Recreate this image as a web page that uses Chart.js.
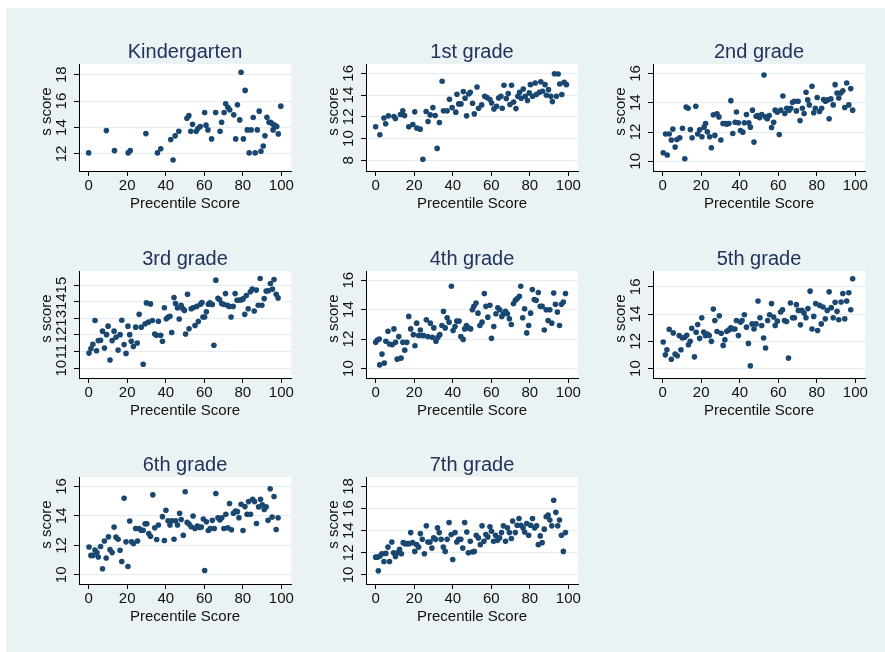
<!DOCTYPE html>
<html>
<head>
<meta charset="utf-8">
<script src="https://cdn.jsdelivr.net/npm/chart.js@4.4.1/dist/chart.umd.min.js"></script>
<style>
  html, body { margin: 0; padding: 0; background: #fff; }
  body { width: 885px; height: 652px; position: relative; overflow: hidden; }
  #bg { position: absolute; left: 6px; top: 8px; width: 879px; height: 644px; background: #eaf2f3; }
  canvas { position: absolute; }
</style>
</head>
<body>
<div id="bg"></div>
<script>
// tick labels
const xTicks = [0, 20, 40, 60, 80, 100];
const yTicksK = [12, 14, 16, 18];
const yTicks1 = [8, 10, 12, 14, 16];
const yTicks3 = [10, 11, 12, 13, 14, 15];
const yTicksStd = [10, 12, 14, 16];
const yTicks7 = [10, 12, 14, 16, 18];

const xTitle = 'Precentile Score';
const yTitle = 's score';

// Kindergarten
const kPct = [0,9.2,13.4,20.5,21.6,29.7,35.7,37.4,42.6,43.8,44.9,46.8,51,52,53,53.9,55.8,56.7,57.9,60.2,60.9,61.9,63.8,65.9,68.2,69,70.3,71.1,72.2,73.2,75.3,76.3,77.2,78.4,79.1,80.3,81.2,82.3,83.3,84.3,85.4,86.4,87.5,88.5,89.4,90.6,91.5,92.5,93.6,94.4,95.3,95.7,96.5,97.6,98.4,99.7];
const kScore = [12.08,13.77,12.25,12.08,12.25,13.54,12.08,12.4,13.1,11.54,13.37,13.72,14.7,14.9,13.72,14.25,13.72,13.92,14.08,15.14,14.18,13.82,13.14,15.14,13.72,14.4,15.14,15.8,15.54,15.34,14.96,13.14,15.72,14.58,18.18,13.14,16.81,13.82,12.08,13.82,14.76,12.08,13.82,15.24,12.2,12.6,13.37,14.78,14.4,14.4,14.28,13.82,14.18,14.08,13.52,15.62];

// 1st grade
const g1Pct = [0,2.2,4.3,5.2,6.6,9.5,10.3,12.9,14.1,15,17.2,19.3,20.3,21.4,23.1,24.5,26.2,27.2,28.3,29.7,30.9,31.9,33.1,34.5,35.2,37.1,38.3,39.7,41.6,42.2,43.1,44.3,45.5,46.4,47.2,48.3,49.1,50.3,51.2,52.6,53.4,55,56.6,57.8,59.3,60.2,61.4,62.8,63.8,65,65.7,66.6,67.8,68.8,69.7,70.5,71.6,72.8,73.8,74.7,75.5,76.6,77.6,78.8,79.7,80.3,81.4,82.8,83.4,85,85.7,86.6,87.9,88.6,89.7,90.9,91.7,92.8,93.8,94.7,95.5,96.6,97.8,99];
const g1Score = [11.08,10.35,11.9,11.36,12.09,12.03,11.85,12.21,12.55,12.12,11.08,11.3,12.46,10.96,10.87,8.09,12.49,11.57,12.18,12.85,12.12,9.1,11.48,15.27,12.55,12.55,13.62,12.85,12.43,14.08,13.19,13.19,14.32,13.71,12.09,14.1,14.26,13.25,12.27,14.75,12.79,13.1,13.89,13.77,13.59,13.28,12.73,12.98,13.74,13.89,12.79,14.9,13.68,14.14,13.13,14.9,13.37,12.76,13.89,14.26,13.71,14.56,13.89,13.5,14.2,14.96,13.89,15.11,14.05,14.26,15.23,14.35,14.96,13.98,14.5,13.89,13.4,15.97,13.89,15.94,15.02,14.05,15.17,14.96];

// 2nd grade
const g2Pct = [0.3,1.5,2.4,3.4,4.5,5.3,6.5,7.4,8.9,10.3,11.5,12.2,13.2,14.4,15.3,17.2,18.2,19.2,20.4,21.5,22.3,23.2,24.4,25.3,26.3,27.1,28.2,29.2,30.2,31.3,32.5,33.3,34.4,35.4,36.4,37.6,38.3,39.3,40.4,41.6,42.4,43.5,44.7,45.5,46.6,47.4,48.5,49.3,50.3,51.4,52.6,53.3,54.3,55.3,56.5,57.6,58.4,59.5,60.5,61.3,62.4,63.4,64.4,65.6,66.5,67.4,68.4,69.4,70.3,71.3,72.5,73.4,74.4,75.3,76.1,77.5,78.4,79.2,80.2,81.4,82.5,83.5,84.5,85.6,86.4,87.3,88.5,89.5,90.5,91.4,92.4,93.5,94.5,95.5,96.6,97.6,98.6];
const g2Score = [10.59,11.86,10.43,11.86,11.45,12.2,10.97,11.49,11.61,12.26,10.18,13.71,13.62,12.17,11.61,13.76,11.86,12.15,11.68,12.33,12.58,12.01,11.68,10.93,13.17,11.77,13.24,13.03,11.45,12.58,12.58,12.54,12.58,14.14,11.9,12.67,13.37,12.63,12.1,11.99,12.63,13.19,12.63,12.33,13.49,11.31,13.08,13.12,12.97,13.19,15.89,13.03,12.9,13.12,12.31,12.67,13.49,13.35,11.83,13.49,14.46,13.26,13.62,13.49,13.62,14.03,14.1,13.44,14.1,12.78,13.62,13.26,14.71,14.19,13.85,15.12,13.31,13.62,14.35,13.4,13.62,14.21,14.1,14.19,12.9,14.26,13.85,15.23,14.66,14.32,14.66,14.82,13.67,15.34,13.85,14.96,13.49];

// 3rd grade
const g3Pct = [0.2,1.2,2.2,3.3,4.1,5,6.2,7.2,8.2,9.3,10.1,11.1,12.2,13.2,14.2,15.3,16.3,17.2,18.4,19.4,20.4,21.3,22.1,23.2,24.4,25.2,26.2,27.3,28.3,29.3,30,31,32.1,33.1,34.3,35.2,36.2,37.4,38.3,39.3,40.3,41.3,42.2,43.1,44.3,45.1,46.1,47,48,48.9,49.7,50.3,51.3,52.1,53.2,54.2,55.2,56.1,56.9,58,58.8,59.3,60.2,61.1,62.1,62.9,64.2,65,66,67.1,67.9,69,70,71,72,72.9,73.9,75,76,77,77.9,79.1,80.1,81,81.8,82.8,83.9,84.9,85.9,87,88,89,89.9,91.1,92.1,93.3,94.3,95.4,96.2,97.3,98.3];
const g3Score = [10.91,11.19,11.44,12.87,11.05,11.66,11.68,12.23,11.21,12.02,12.53,10.49,11.66,12.23,11.86,11.09,12.02,12.89,11.42,10.89,12.53,12.02,11.62,11.3,12.47,11.52,13.24,12.47,10.24,12.67,13.93,12.77,13.87,12.87,12.06,11.98,12.83,11.98,11.62,13.64,12.98,13.08,13.12,12.15,14.25,13.89,13.62,12.96,13.79,13.58,13.48,12.06,14.45,12.37,13.58,13.64,12.57,13.72,12.81,13.85,13.95,13.08,13.08,13.4,13.85,13.93,13.83,11.38,15.3,14.21,14.13,13.89,13.85,14.49,13.79,13.72,13.08,13.72,14.49,14.09,14.09,14.11,14.17,13.24,14.37,13.58,14.6,14.76,13.44,14.7,13.79,15.4,13.79,14.19,14.64,14.66,15.1,14.76,15.34,14.45,14.23];

// 4th grade
const g4Pct = [0,0.9,1.9,2.1,3.3,4.5,5.3,6.4,7.2,8.6,9.5,10.3,11.2,12,13.2,14.1,15.1,16.2,17.2,18.2,19.6,20.4,21.3,22.3,23.2,24.1,24.9,26.3,27.1,28.4,29.4,30.2,31.3,32.3,33.3,34.4,35.2,36.1,37.1,38.1,39.3,40.2,41.2,42.1,43.3,44.2,45.4,46.2,47.1,48.3,49.3,50.2,51,52.1,53.1,54.1,55.2,56.4,57.2,58.2,59.3,60.1,61.3,62.4,63.4,64.4,65.5,66.3,67.4,68.4,69.4,70.4,71.5,72.5,73.5,74.6,75.3,76.3,77.3,78.4,79.4,80.4,81.3,82.3,83.3,84.4,85.4,86.4,87.5,88.5,89.5,90.4,91.4,92.4,93.3,94.3,95.4,96.4,97.4,98.5];
const g4Score = [11.78,11.94,12.01,10.25,10.98,10.37,11.85,12.53,11.67,11.62,12.69,11.78,10.64,12.17,10.71,11.78,11.25,11.78,13.54,12.69,12.3,11.55,13.08,12.24,12.62,12.24,12.24,13.31,12.17,13.08,12.12,12.76,11.85,12.12,12.3,12.92,13.88,12.76,13.45,13.15,15.59,12.58,12.85,13.22,13.22,12.17,11.98,12.69,12.92,12.76,12.69,13.99,14.22,14.45,13.76,12.92,13.15,15.09,14.22,13.49,14.29,12.05,12.85,13.72,14.13,13.99,13.54,13.72,13.88,13.72,13.38,12.99,14.4,14.63,14.75,14.9,15.59,13.45,14.06,12.42,12.92,13.76,15.36,14.68,14.63,15.16,14.22,14.22,12.62,13.99,13.26,13.99,13.08,15.13,14.36,13.83,12.92,14.36,14.52,15.09];

// 5th grade
const g5Pct = [0.3,1.4,2.2,3.4,4.5,5.5,6.5,7.6,8.6,9.5,10.3,11.5,12.5,13.4,14.3,15.1,16.5,17.4,18.2,19.2,20.3,21.3,22.2,23.2,24.2,25.3,26.3,27.1,28.2,29.4,30.4,31.4,32.3,33.3,34.4,35.4,36.4,37.5,38.3,39.3,40.4,41.2,42.4,43.5,44.5,45.5,46.4,47.4,48.5,49.5,50.5,51.4,52.4,53.4,54.5,55.5,56.5,57.6,58.4,59.5,61.2,62.2,63.2,64.3,65.3,66.3,67.4,68.4,69.4,70.4,71.5,72.3,73.4,74.4,75.4,76.5,77.5,78.4,79.4,80.4,81.4,82.3,83.2,84.4,85.4,86.4,87.5,88.5,89.5,90.5,91.4,92.6,93.5,94.5,95.5,96.6,97.6,98.6];
const g5Score = [11.95,11.01,11.38,12.89,10.69,12.62,11.06,10.94,12.42,11.38,12.25,12.3,12.44,11.75,12,12.96,10.86,12.67,13.23,12.22,13.73,12.69,12.42,12.54,12.42,12,14.37,13.53,12.72,13.88,12.59,11.7,12.12,12.74,12.84,12.99,12.91,12.91,13.53,12.42,13.41,13.53,13.95,13.04,11.85,10.2,13.28,12.91,13.28,14.96,13.73,13.16,12.25,11.51,13.53,13.95,14.77,13.78,13.16,13.48,14.15,14.32,13.53,13.46,10.77,14.81,13.73,13.73,14.69,14.27,13.21,14.27,14.07,13.73,14.4,15.68,12.91,13.83,14.77,12.79,14.64,13.28,14.52,13.65,14.27,15.63,14.47,13.73,14.86,14.2,13.58,14.89,15.51,13.65,14.96,15.56,14.32,16.59];

// 6th grade
const g6Pct = [0.2,1.2,2.2,3.3,4.3,5,6.2,7.2,8.2,9.1,10.3,11.1,12.2,13.2,14.2,15.3,16.3,17.2,18.4,19.4,20.4,21.3,22.3,23.3,24.4,25.4,26.2,27.3,28.3,29.3,30.2,31.2,32.1,33.3,34.3,35.3,36.2,38.3,39.3,40.1,41.2,42.2,43.1,44.3,45.1,46.1,47.2,48,49.1,50.1,51.1,52.1,53.2,54.2,55.2,56.4,57.5,58.5,59.5,60.2,61.1,62.1,63.1,64.2,65.2,66,67.1,68.1,69.1,70.2,71.2,72.2,73.1,74.1,75.1,76.2,77.2,78,79.1,80.1,81.1,82.2,83,84,85.1,86.1,87.1,88.2,89.2,90.1,91.1,92.1,93.1,94.2,95.2,96.2,97.3,98.3];
const g6Score = [11.89,11.32,11.32,11.69,11.51,11.21,11.92,10.41,12.3,11.14,12.58,11.71,11.51,13.24,12.56,12.42,11.67,10.91,15.2,12.24,10.57,13.65,12.24,12.12,13.15,12.3,13.15,13.03,13.03,13.47,13.47,12.81,12.62,15.43,13.19,12.4,13.38,13.95,12.33,14.38,13.67,13.38,13.67,12.42,13.67,13.38,14.18,13.76,12.69,15.64,13.56,13.45,13.26,13.99,13.15,13.31,13.22,13.24,13.79,10.3,13.6,13.01,13.15,13.7,13.15,15.52,13.88,13.72,13.88,13.15,14.11,13.19,14.84,13.06,14.18,14.33,14.29,13.88,14.79,13.01,14.63,14.11,14.97,14.11,15.13,14.97,13.49,14.61,15.13,14.75,14.43,14.61,13.7,15.84,13.92,15.32,13.08,13.88];

// 7th grade
const g7Pct = [0,0.9,1.4,2.2,3.3,4.3,5.3,6.4,7.2,8.4,9.3,10.3,11.3,12.4,13.4,14.3,15.3,16.3,17.4,18.2,19.2,20.3,21.3,22.3,23.2,24.2,25.3,26.3,27.1,28.2,29.2,30.1,31.1,32.1,33,34,35.1,36.1,37.1,38.1,39.2,40,41.2,42.1,43.1,44.2,45.2,46.2,47.3,48.1,49.1,50.2,51.2,52.2,53.3,54.3,55.2,56.2,57.2,58.2,59.3,60.1,61.2,62.2,63.2,64.3,65.3,66.3,67.4,68.4,69.4,70.4,71.1,72.5,73.4,74.4,75.4,76.5,77.3,78.4,79.4,80.4,81.4,82.5,83.5,84.4,85.4,86.4,87.5,88.5,89.5,90.4,91.4,92.4,93.5,94.5,95.4,96.4,97.4,98.5];
const g7Score = [11.61,11.61,10.37,11.7,11.92,11.22,11.95,12.52,11.22,12.98,12.01,11.67,12.01,12.31,11.92,12.92,12.83,12.83,12.83,13.83,12.92,12.13,12.74,12.52,13.74,13.22,11.92,14.44,12.98,12.98,12.43,13.35,13.22,14.26,13.83,13.22,12.52,12.13,13.22,14.75,13.65,11.4,13.83,12.98,13.22,13.22,12.43,14.75,13.89,12.01,13.04,12.07,12.13,13.59,13.35,12.74,14.44,13.04,13.65,13.44,14.35,13.95,13.04,13.59,13.13,13.35,13.83,14.44,13.04,14.26,13.83,13.29,14.87,13.83,14.5,15.11,14.5,14.26,13.89,14.65,13.59,14.5,15.11,14.26,14.44,12.74,13.53,12.92,14.14,15.26,15.41,14.96,14.44,16.75,15.66,14.44,14.96,13.59,12.13,13.83];

const panels = [
  { title: 'Kindergarten', x: kPct, y: kScore, yTicks: yTicksK, yMin: 10.71, yMax: 18.81 },
  { title: '1st grade', x: g1Pct, y: g1Score, yTicks: yTicks1, yMin: 7.02, yMax: 16.86 },
  { title: '2nd grade', x: g2Pct, y: g2Score, yTicks: yTicksStd, yMin: 9.34, yMax: 16.64 },
  { title: '3rd grade', x: g3Pct, y: g3Score, yTicks: yTicks3, yMin: 9.41, yMax: 15.85 },
  { title: '4th grade', x: g4Pct, y: g4Score, yTicks: yTicksStd, yMin: 9.36, yMax: 16.62 },
  { title: '5th grade', x: g5Pct, y: g5Score, yTicks: yTicksStd, yMin: 9.31, yMax: 17.16 },
  { title: '6th grade', x: g6Pct, y: g6Score, yTicks: yTicksStd, yMin: 9.38, yMax: 16.64 },
  { title: '7th grade', x: g7Pct, y: g7Score, yTicks: yTicks7, yMin: 9.18, yMax: 18.86 }
];

const FONT = "'Liberation Sans', Arial, sans-serif";
const colLeft = [79, 366, 653];   // left edge of each plot region
const rowTop = [64, 271, 477];    // top edge of each plot region
const Y_AXIS_W = 50, TITLE_H = 36, X_AXIS_H = 48;

// white plot region behind the points
const plotBg = {
  id: 'plotBg',
  beforeDraw(chart) {
    const a = chart.chartArea, ctx = chart.ctx;
    ctx.save();
    ctx.fillStyle = '#ffffff';
    ctx.fillRect(a.left, a.top, a.right - a.left, a.bottom - a.top);
    ctx.restore();
  }
};

// y axis title, sitting a bit above the middle of the axis like Stata does
const yTitlePlugin = {
  id: 'yTitle',
  afterDraw(chart) {
    const a = chart.chartArea, ctx = chart.ctx;
    ctx.save();
    ctx.translate(a.left - 32, (a.top + a.bottom) / 2 - 6);
    ctx.rotate(-Math.PI / 2);
    ctx.font = '15px ' + FONT;
    ctx.fillStyle = '#111';
    ctx.textAlign = 'center';
    ctx.textBaseline = 'middle';
    ctx.fillText(yTitle, 0, 0);
    ctx.restore();
  }
};

panels.forEach((p, i) => {
  const col = i % 3, row = Math.floor(i / 3);
  const canvas = document.createElement('canvas');
  canvas.width = 268;
  canvas.height = 191;
  canvas.style.left = (colLeft[col] - Y_AXIS_W) + 'px';
  canvas.style.top = (rowTop[row] - TITLE_H) + 'px';
  document.body.appendChild(canvas);

  new Chart(canvas, {
    type: 'scatter',
    data: {
      datasets: [{
        data: p.x.map((v, k) => ({ x: v, y: p.y[k] })),
        pointRadius: 2.8,
        pointBackgroundColor: '#1a476f',
        pointBorderWidth: 0
      }]
    },
    options: {
      responsive: false,
      animation: false,
      events: [],
      layout: { padding: { right: 6 } },
      plugins: {
        legend: { display: false },
        tooltip: { enabled: false },
        title: {
          display: true,
          text: p.title,
          fullSize: false,
          color: '#22325a',
          font: { family: FONT, size: 20, weight: 'normal' },
          padding: { top: 12, bottom: 0 }
        }
      },
      scales: {
        x: {
          type: 'linear',
          min: -5,
          max: 105,
          afterBuildTicks: s => { s.ticks = xTicks.map(v => ({ value: v })); },
          afterFit: s => { s.height = X_AXIS_H; s.paddingLeft = 0; s.paddingRight = 0; },
          grid: { drawOnChartArea: false, tickLength: 5, tickColor: '#000' },
          border: { color: '#000' },
          ticks: { autoSkip: false, maxRotation: 0, padding: 1, color: '#111', font: { family: FONT, size: 15 } },
          title: { display: true, text: xTitle, color: '#111', font: { family: FONT, size: 15 }, padding: { top: 9, bottom: 6 } }
        },
        y: {
          min: p.yMin,
          max: p.yMax,
          afterBuildTicks: s => { s.ticks = p.yTicks.map(v => ({ value: v })); },
          afterFit: s => { s.width = Y_AXIS_W; s.paddingTop = 0; s.paddingBottom = 0; },
          grid: { color: '#e3ecef', tickLength: 5, tickColor: '#000' },
          border: { color: '#000' },
          ticks: { autoSkip: false, minRotation: 90, maxRotation: 90, crossAlign: 'center', padding: 4, color: '#111', font: { family: FONT, size: 15 } },
          title: { display: false }
        }
      }
    },
    plugins: [plotBg, yTitlePlugin]
  });
});
</script>
</body>
</html>
